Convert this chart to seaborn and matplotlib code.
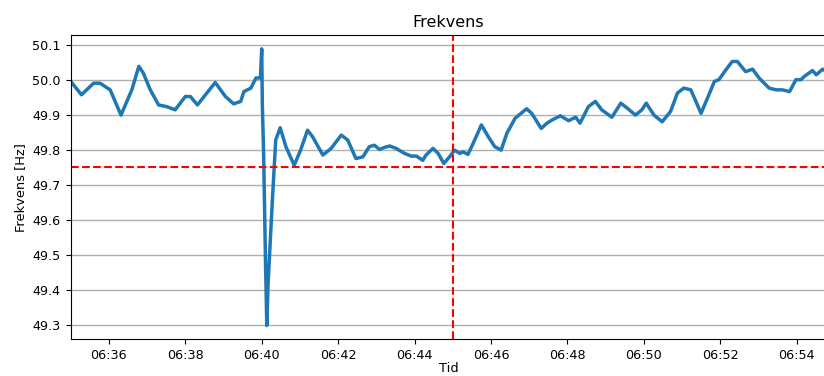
import matplotlib
matplotlib.use("Agg")
import matplotlib.pyplot as plt
import matplotlib.dates as mdates
import pandas as pd
import seaborn as sns

# --- data ---
times = [
    "06:35:00", "06:35:17", "06:35:36", "06:35:46", "06:36:02", "06:36:19", "06:36:36",
    "06:36:47", "06:36:54", "06:37:05", "06:37:18", "06:37:31", "06:37:44", "06:38:00",
    "06:38:08", "06:38:19", "06:38:47", "06:39:03", "06:39:16", "06:39:27", "06:39:32",
    "06:39:43", "06:39:51", "06:39:58", "06:40:00", "06:40:01", "06:40:03", "06:40:06",
    "06:40:08", "06:40:10", "06:40:17", "06:40:22", "06:40:29", "06:40:38", "06:40:51",
    "06:41:01", "06:41:12", "06:41:20", "06:41:36", "06:41:49", "06:42:05", "06:42:15",
    "06:42:28", "06:42:39", "06:42:49", "06:42:57", "06:43:05", "06:43:13", "06:43:21",
    "06:43:31", "06:43:44", "06:43:55", "06:44:03", "06:44:13", "06:44:18", "06:44:29",
    "06:44:37", "06:44:46", "06:44:55", "06:45:03", "06:45:11", "06:45:16", "06:45:24",
    "06:45:32", "06:45:45", "06:45:56", "06:46:06", "06:46:16", "06:46:25", "06:46:38",
    "06:46:56", "06:47:04", "06:47:19", "06:47:28", "06:47:36", "06:47:49", "06:48:02",
    "06:48:13", "06:48:20", "06:48:33", "06:48:44", "06:48:54", "06:49:10", "06:49:24",
    "06:49:34", "06:49:47", "06:49:57", "06:50:04", "06:50:16", "06:50:29", "06:50:42",
    "06:50:53", "06:51:03", "06:51:14", "06:51:30", "06:51:40", "06:51:51", "06:51:58",
    "06:52:09", "06:52:19", "06:52:27", "06:52:40", "06:52:51", "06:53:01", "06:53:17",
    "06:53:28", "06:53:38", "06:53:49", "06:53:59", "06:54:07", "06:54:12", "06:54:25",
    "06:54:31", "06:54:41", "06:54:47",
]
freq = [
    49.995, 49.957, 49.990, 49.990, 49.971, 49.899, 49.971,
    50.038, 50.019, 49.971, 49.928, 49.923, 49.914, 49.952,
    49.952, 49.928, 49.992, 49.952, 49.931, 49.938, 49.966,
    49.976, 50.005, 50.005, 50.088, 49.928, 49.790, 49.475,
    49.299, 49.418, 49.665, 49.828, 49.863, 49.809, 49.756,
    49.799, 49.856, 49.837, 49.785, 49.804, 49.842, 49.828,
    49.775, 49.780, 49.809, 49.813, 49.801, 49.807, 49.811,
    49.804, 49.790, 49.782, 49.782, 49.770, 49.785, 49.804,
    49.790, 49.761, 49.780, 49.799, 49.790, 49.794, 49.787,
    49.818, 49.871, 49.837, 49.809, 49.799, 49.847, 49.890,
    49.917, 49.904, 49.861, 49.876, 49.885, 49.897, 49.883,
    49.893, 49.876, 49.923, 49.938, 49.914, 49.893, 49.933,
    49.919, 49.899, 49.914, 49.933, 49.899, 49.880, 49.909,
    49.962, 49.976, 49.971, 49.904, 49.947, 49.995, 50.000,
    50.028, 50.052, 50.052, 50.023, 50.030, 50.005, 49.976,
    49.971, 49.971, 49.966, 50.000, 50.000, 50.009, 50.026,
    50.014, 50.030, 50.023,
]
limit_freq = 49.75
event_time = "06:45:00"
day = "2024-01-01 "

df = pd.DataFrame({"Tid": pd.to_datetime([day + t for t in times]), "Frekvens": freq})

fig = plt.figure(figsize=(8.24, 3.76), dpi=100)
ax = fig.add_axes([70.7 / 824, 36.7 / 376, (824 - 70.7) / 824 + 0.003, 304.3 / 376])

sns.lineplot(data=df, x="Tid", y="Frekvens", ax=ax, color="#1f77b4", linewidth=2.5)

ax.axhline(limit_freq, color="red", linestyle="--", linewidth=1.5)
ax.axvline(pd.Timestamp(day + event_time), color="red", linestyle="--", linewidth=1.5)

ax.set_xlim(df["Tid"].min(), df["Tid"].max())
ax.margins(y=0.05)
ax.xaxis.set_major_locator(mdates.MinuteLocator(byminute=range(0, 60, 2)))
ax.xaxis.set_major_formatter(mdates.DateFormatter("%H:%M"))
ax.set_yticks([49.3, 49.4, 49.5, 49.6, 49.7, 49.8, 49.9, 50.0, 50.1])
ax.yaxis.set_major_formatter(matplotlib.ticker.FormatStrFormatter("%.1f"))
ax.tick_params(axis="both", labelsize=9.2)
ax.yaxis.grid(True, color="#b0b0b0", linewidth=1.0)
ax.set_axisbelow(True)

ax.set_title("Frekvens", fontsize=11.5)
ax.set_xlabel("Tid", fontsize=9.4, labelpad=0)
ax.set_ylabel("Frekvens [Hz]", fontsize=9.4)

fig.savefig("out.png", dpi=100)
